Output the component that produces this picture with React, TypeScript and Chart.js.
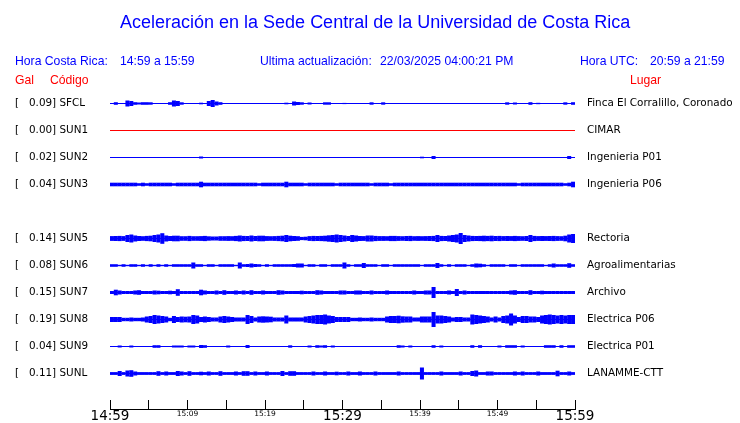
import React, { useEffect, useRef } from "react";
import { Chart, registerables } from "chart.js";

Chart.register(...registerables);

// ---------- data ----------
const TITLE = "Aceleración en la Sede Central de la Universidad de Costa Rica";
const LOCAL_RANGE = "14:59 a 15:59";
const UTC_RANGE = "20:59 a 21:59";
const LAST_UPDATE = "22/03/2025 04:00:21 PM";

const CODES = ["SFCL", "SUN1", "SUN2", "SUN3", "SUN5", "SUN6", "SUN7", "SUN8", "SUN9", "SUNL"];
const PEAK_GAL = [0.09, 0.0, 0.02, 0.04, 0.14, 0.08, 0.15, 0.19, 0.04, 0.11];
const PLACES = [
  "Finca El Corralillo, Coronado",
  "CIMAR",
  "Ingenieria P01",
  "Ingenieria P06",
  "Rectoria",
  "Agroalimentarias",
  "Archivo",
  "Electrica P06",
  "Electrica P01",
  "LANAMME-CTT",
];
// trace slot of each station (slot 4 is empty)
const SLOTS = [0, 1, 2, 3, 5, 6, 7, 8, 9, 10];

// time axis (minutes after 14:59)
const TICK_MINUTES = [0, 5, 10, 15, 20, 25, 30, 35, 40, 45, 50, 55, 60];
const TICK_LABELS = ["14:59", "", "15:09", "", "15:19", "", "15:29", "", "15:39", "", "15:49", "", "15:59"];
const MAJOR_LABELS = ["14:59", "15:29", "15:59"];
const BIN_MINUTES = 0.5; // envelope sampled every half minute

// envelope half-amplitude per half-minute bin (27 units = one trace spacing)
const SFCL = [
  0, 1.3, 0, 0.5, 3, 2.5, 1.3, 1, 1.3, 1.3, 1.2, 0, 0, 0, 0, 1.3, 3, 2.5, 1.2, 0,
  0, 0, 0, 0.8, 0, 2.5, 3.5, 2, 1.3, 0, 0, 0, 0, 0, 0, 0, 0, 0, 0, 0,
  0, 0, 0, 0, 0, 0.8, 0, 2, 1.5, 1.2, 0, 1, 0, 0, 0, 1.2, 1.2, 0, 0, 0,
  0.6, 0, 0, 0, 0, 0, 0, 1.2, 0, 0, 1.2, 0, 0, 0, 0, 0, 0, 0, 0, 0,
  0, 0, 0, 0, 0, 0, 0, 0, 0, 0, 0, 0, 0, 0, 0, 0, 0, 0, 0, 0,
  0, 0, 1.2, 0, 1, 0, 0, 0, 1.3, 0, 0.7, 0, 0, 0, 0, 0, 0, 1.2, 0, 1.3,
];
const SUN1 = [
  0, 0, 0, 0, 0, 0, 0, 0, 0, 0, 0, 0, 0, 0, 0, 0, 0, 0, 0, 0,
  0, 0, 0, 0, 0, 0, 0, 0, 0, 0, 0, 0, 0, 0, 0, 0, 0, 0, 0, 0,
  0, 0, 0, 0, 0, 0, 0, 0, 0, 0, 0, 0, 0, 0, 0, 0, 0, 0, 0, 0,
  0, 0, 0, 0, 0, 0, 0, 0, 0, 0, 0, 0, 0, 0, 0, 0, 0, 0, 0, 0,
  0, 0, 0, 0, 0, 0, 0, 0, 0, 0, 0, 0, 0, 0, 0, 0, 0, 0, 0, 0,
  0, 0, 0, 0, 0, 0, 0, 0, 0, 0, 0, 0, 0, 0, 0, 0, 0, 0, 0, 0,
];
const SUN2 = [
  0, 0, 0, 0, 0, 0, 0, 0, 0, 0, 0, 0, 0, 0, 0, 0, 0, 0, 0, 0,
  0, 0, 0, 1, 0, 0, 0, 0, 0, 0, 0, 0, 0, 0, 0, 0, 0, 0, 0, 0,
  0, 0, 0, 0, 0, 0, 0, 0, 0, 0, 0, 0, 0, 0, 0, 0, 0, 0, 0, 0,
  0, 0, 0, 0, 0, 0, 0, 0, 0, 0, 0, 0, 0, 0, 0, 0, 0, 0, 0, 0,
  0.8, 0, 0, 1.5, 0, 0, 0, 0, 0, 0, 0, 0, 0, 0, 0, 0, 0, 0, 0, 0,
  0, 0, 0, 0, 0, 0, 0, 0, 0, 0, 0, 0, 0, 0, 0, 0, 0, 0, 1.5, 0,
];
const SUN3 = [
  1.8, 1.8, 1.8, 1.8, 1.8, 1.8, 1.8, 1.3, 1.8, 1.3, 1.8, 1.8, 1.8, 1.8, 1.8, 1.8, 1.3, 1.8, 1.8, 1.8,
  1.8, 1.8, 1.8, 2.8, 1.8, 1.8, 1.8, 1.8, 1.8, 1.8, 1.8, 1.8, 1.8, 1.8, 1.8, 1.8, 1.8, 1.8, 1.3, 1.8,
  1.8, 1.8, 1.8, 1.8, 1.8, 2.8, 1.8, 1.8, 1.8, 1.8, 1.3, 1.8, 1.8, 1.8, 1.8, 1.8, 1.8, 1.8, 1.3, 1.8,
  1.8, 1.8, 1.8, 1.8, 1.8, 1.8, 1.8, 1.3, 1.8, 1.8, 1.8, 1.8, 1.3, 1.8, 1.8, 1.8, 1.8, 1.8, 1.8, 1.8,
  1.8, 1.8, 1.8, 1.8, 1.8, 1.8, 1.8, 1.8, 1.8, 1.8, 1.8, 1.8, 1.8, 1.8, 1.8, 1.8, 1.8, 1.8, 1.8, 1.8,
  1.8, 1.8, 1.8, 1.8, 1.8, 1.3, 1.8, 1.8, 1.8, 1.8, 1.8, 1.8, 1.8, 1.8, 1.8, 1.8, 1.8, 1.3, 1.8, 2.8,
];
const SUN5 = [
  2.4, 2.5, 2.6, 2.4, 3.5, 4, 3, 2.5, 2.3, 2.6, 2.8, 3.5, 4, 5.3, 3, 2.5, 2.8, 2.8, 2.3, 2.3,
  2.6, 2.3, 2.3, 2.4, 2.6, 2.2, 2, 2, 2.3, 2.3, 2.4, 2.3, 2.6, 3, 2.6, 2.5, 3, 2.5, 2.8, 2.8,
  2.4, 2.3, 2.4, 2.6, 2.8, 3.5, 2.8, 2.5, 2.3, 1.6, 1.8, 2.4, 2.6, 2.5, 2.6, 2.8, 3.2, 3.5, 4, 3.5,
  3, 2.5, 3.5, 3, 2.5, 2.4, 3, 3, 2.6, 2.4, 2.4, 2.3, 2.6, 2.6, 2.4, 2.3, 2.5, 2.6, 2.3, 2.4,
  2.3, 2.4, 2.5, 2.6, 3.5, 2.6, 2.5, 3, 3.5, 4, 5.5, 3.5, 3, 2.6, 2.5, 2.6, 2.8, 2.6, 2.8, 2.5,
  2.6, 2.4, 2.5, 2.4, 2.6, 2.4, 2.3, 2.5, 3.5, 2.6, 2.4, 2.5, 2.4, 2.5, 2.6, 2.4, 2.3, 2.8, 4, 4.5,
];
const SUN6 = [
  1.3, 1.3, 0.7, 1.3, 0.7, 1.3, 1.3, 0.7, 1.3, 0.7, 1.3, 0.7, 1.3, 0.7, 1.3, 0.7, 1.3, 1.3, 1.3, 1.3,
  1.3, 3, 1.3, 1.3, 0.7, 1.3, 1.3, 0.7, 1.3, 1.3, 1.3, 1.3, 0.7, 3, 1.3, 1.5, 2, 1.5, 1.3, 0.7,
  1.3, 0.7, 1.3, 1.3, 1.3, 1.3, 1.3, 1.5, 2, 2, 0.7, 1.3, 1.3, 0.7, 1.3, 1.3, 0.7, 1.3, 1.3, 1.3,
  3, 1.3, 0.7, 1.3, 1.3, 2.5, 1.3, 1.3, 1.3, 0.7, 1.3, 1.3, 0.7, 1.3, 1.3, 1.3, 1.3, 1.3, 1.3, 1.3,
  0.7, 1.3, 1.3, 1.3, 2.5, 1.3, 0.7, 1.3, 0.7, 1.3, 1.3, 1.3, 0.7, 1.3, 2, 1.8, 1.3, 0.7, 1.3, 1.3,
  1.3, 1.3, 0.7, 1.3, 1.3, 0.7, 1.3, 1.3, 1.3, 1.3, 1.3, 1.3, 0.7, 1.3, 2, 1.3, 1.3, 1.3, 2.3, 1.3,
];
const SUN7 = [
  1.5, 2.8, 2, 1.5, 1.5, 1.5, 2, 2.3, 1.5, 1.5, 1.5, 2, 1.8, 1.5, 1.5, 1.8, 1.5, 3.3, 1.5, 1.5,
  1.5, 1.5, 1.5, 2.8, 2, 1.5, 1.5, 2, 1.5, 2.3, 1.5, 1.5, 2, 1.5, 2, 1.5, 2.3, 1.5, 1.5, 2,
  1.5, 1.5, 1.5, 2.3, 2, 1.5, 1.5, 1.5, 1.5, 1.8, 1.5, 1.5, 1.5, 2.3, 2, 1.5, 1.5, 1.5, 1.5, 2,
  2, 1.5, 1.5, 2, 2, 1.5, 1.5, 2, 1.5, 1.5, 1.5, 2, 1.5, 1.5, 1.5, 1.5, 1.5, 1.5, 2, 1.5,
  1.5, 2, 2, 5.5, 1.5, 1.5, 1.5, 2, 1.5, 3.5, 1.5, 2, 1.5, 1.5, 1.5, 1.5, 1.5, 1.5, 1.5, 1.5,
  1.5, 1.5, 1.5, 2, 2.3, 1.5, 1.5, 1.5, 2.3, 1.5, 1.5, 1.8, 1.5, 1.5, 1.5, 1.5, 1.5, 1.5, 1.5, 1.5,
];
const SUN8 = [
  2.5, 2.5, 2.5, 1.7, 1.7, 2, 1.7, 1.7, 2, 3, 3.5, 4.5, 4, 3.5, 3, 1.7, 3.5, 2.5, 3, 2.8,
  3, 4.5, 4, 2.5, 3, 2.5, 2, 2, 3, 3.5, 3, 2.5, 2, 2, 2, 4.5, 3.5, 2, 3, 3.2,
  3, 2.8, 2, 2, 2, 4, 2, 2, 2, 2, 3, 3.5, 4, 4.5, 4.5, 5, 4, 3.5, 2.5, 2.5,
  2.5, 2.5, 1.7, 1.7, 2, 1.7, 1.7, 2, 1.7, 1.7, 1.7, 3, 3.5, 3.5, 3.8, 3.2, 3, 3, 2, 2,
  3, 3, 3, 7.5, 4, 4, 3.5, 3, 2, 2.5, 2.5, 2, 2, 5, 4.5, 4, 3.5, 3, 2, 3,
  2, 3.5, 4, 6, 4, 2.5, 3.5, 3.5, 3, 3, 2.5, 4, 4.5, 5, 4.5, 4, 4.5, 4, 4.5, 4.5,
];
const SUN9 = [
  0, 0, 1, 0, 0, 1, 0, 0, 0, 0, 0, 1.3, 1.3, 0, 0, 0, 1, 1, 1, 0,
  1, 1, 0, 1.5, 1.3, 0, 0, 0, 0, 0, 1, 0, 0, 0, 0, 1.5, 0, 0, 0, 0,
  0, 0, 0, 0, 0, 0, 1.2, 0, 0, 0, 0, 1, 0, 1.3, 1, 1.3, 0, 1, 0, 0,
  0, 0, 0, 0, 0, 0, 0, 0, 0, 0, 0, 0, 0, 0, 1.3, 1, 0, 1, 0, 0,
  0, 0, 0, 1.3, 0, 1, 0, 0, 0, 0, 0, 0, 0, 1.3, 0, 1.3, 0, 0, 0, 0,
  1, 0, 1.3, 1.3, 1.3, 0, 1, 0, 0, 0, 0, 0, 1.3, 1.3, 1.3, 0, 1.3, 0, 1.3, 1.3,
];
const SUNL = [
  1.4, 1.4, 2.5, 1.4, 3, 3.3, 2, 1.4, 1.4, 1.4, 1.4, 1.4, 2.3, 1.4, 2, 1.4, 1.4, 2.5, 2, 1.4,
  2.3, 1.4, 1.4, 1.8, 1.4, 2, 1.4, 1.4, 2.3, 1.4, 1.4, 1.4, 2, 1.4, 2.3, 2.3, 1.4, 2, 1.4, 1.4,
  2, 1.4, 1.4, 1.4, 2.5, 1.4, 2.3, 2.3, 1.4, 1.4, 1.4, 1.4, 2, 1.4, 1.4, 2, 1.4, 1.4, 1.8, 1.4,
  1.4, 2, 1.4, 1.4, 2, 1.4, 1.4, 1.4, 2, 1.4, 1.4, 1.4, 1.4, 1.4, 2, 1.4, 1.4, 1.4, 1.4, 1.4,
  6, 1.4, 1.4, 1.4, 1.4, 2, 1.4, 1.4, 1.4, 1.4, 2, 1.4, 1.4, 2.5, 3, 1.4, 1.4, 2, 2, 1.4,
  1.4, 1.4, 1.4, 1.4, 2, 1.4, 2, 1.4, 1.4, 1.4, 2, 1.4, 1.4, 1.4, 1.4, 2.8, 1.4, 1.4, 2, 1.4,
];
const ENVELOPES = [SFCL, SUN1, SUN2, SUN3, SUN5, SUN6, SUN7, SUN8, SUN9, SUNL];
const UNITS_PER_SLOT = 27;

// ---------- styles ----------
const BLUE = "#0000ff";
const RED = "#ff0000";
const TRACE_COLORS = [BLUE, RED, BLUE, BLUE, BLUE, BLUE, BLUE, BLUE, BLUE, BLUE];
const HEAD_FONT = '"Liberation Sans", Arial, Helvetica, sans-serif';
const LABEL_FONT = '"DejaVu Sans", Verdana, sans-serif';

const W = 740;
const H = 423;

const noPad = (s: any) => {
  s.paddingTop = 0;
  s.paddingBottom = 0;
  s.paddingLeft = 0;
  s.paddingRight = 0;
};

export default function App() {
  const ref = useRef<HTMLCanvasElement | null>(null);

  useEffect(() => {
    const canvas = ref.current;
    if (!canvas) return;

    const datasets: any[] = [];
    ENVELOPES.forEach((env, s) => {
      const slot = SLOTS[s];
      const color = TRACE_COLORS[s];
      datasets.push({
        type: "bar",
        yAxisID: "y",
        grouped: false,
        backgroundColor: color,
        borderWidth: 0,
        categoryPercentage: 1,
        barPercentage: 1.04,
        data: env.map((a, i) => ({
          x: (i + 0.5) * BIN_MINUTES,
          y: a > 0 ? [slot - a / UNITS_PER_SLOT, slot + a / UNITS_PER_SLOT] : null,
        })),
      });
      datasets.push({
        type: "line",
        yAxisID: "y",
        borderColor: color,
        borderWidth: 1,
        pointRadius: 0,
        fill: false,
        data: [
          { x: TICK_MINUTES[0], y: slot },
          { x: TICK_MINUTES[TICK_MINUTES.length - 1], y: slot },
        ],
      });
    });

    const leftLabel = (v: number) => {
      const i = SLOTS.indexOf(v);
      return i < 0 ? "" : `[   ${PEAK_GAL[i].toFixed(2)}] ${CODES[i]}`;
    };
    const rightLabel = (v: number) => {
      const i = SLOTS.indexOf(v);
      return i < 0 ? "" : PLACES[i];
    };
    const yMin = -0.5;
    const yMax = 11.3148;

    const chart = new Chart(canvas, {
      type: "bar",
      data: { datasets },
      options: {
        animation: false,
        responsive: false,
        events: [],
        layout: { autoPadding: false, padding: { left: 15, right: 0, top: 90, bottom: 0 } },
        plugins: {
          legend: { display: false },
          tooltip: { enabled: false },
          title: { display: false },
        },
        scales: {
          x: {
            type: "linear",
            position: "bottom",
            min: TICK_MINUTES[0],
            max: TICK_MINUTES[TICK_MINUTES.length - 1],
            offset: false,
            grid: {
              display: true,
              offset: false,
              drawOnChartArea: false,
              drawTicks: true,
              tickLength: -9,
              color: "#000",
              lineWidth: 1,
            },
            border: { display: true, color: "#000", width: 1 },
            ticks: {
              autoSkip: false,
              maxRotation: 0,
              minRotation: 0,
              padding: 8,
              color: "#000",
              font: (ctx: any) => {
                const lab = TICK_LABELS[ctx.index] || "";
                return MAJOR_LABELS.includes(lab)
                  ? { family: LABEL_FONT, size: 13.5, lineHeight: 1.2 }
                  : { family: LABEL_FONT, size: 7.5, lineHeight: 1.55 };
              },
              callback: (_v: any, i: number) => TICK_LABELS[i],
            },
            afterBuildTicks: (s: any) => {
              s.ticks = TICK_MINUTES.map((v) => ({ value: v }));
            },
            afterFit: (s: any) => {
              s.height = 14;
              noPad(s);
            },
          },
          y: {
            type: "linear",
            position: "left",
            min: yMin,
            max: yMax,
            reverse: true,
            grid: { display: false, drawTicks: false },
            border: { display: false },
            ticks: {
              crossAlign: "far",
              padding: 0,
              color: "#000",
              font: { family: LABEL_FONT, size: 10.4 },
              callback: (v: any) => leftLabel(Number(v)),
            },
            afterBuildTicks: (s: any) => {
              s.ticks = SLOTS.map((v) => ({ value: v }));
            },
            afterFit: (s: any) => {
              s.width = 95;
              noPad(s);
            },
          },
          y2: {
            type: "linear",
            position: "right",
            min: yMin,
            max: yMax,
            reverse: true,
            grid: { display: false, drawTicks: false },
            border: { display: false },
            ticks: {
              padding: 12,
              color: "#000",
              font: { family: LABEL_FONT, size: 10.4 },
              callback: (v: any) => rightLabel(Number(v)),
            },
            afterBuildTicks: (s: any) => {
              s.ticks = SLOTS.map((v) => ({ value: v }));
            },
            afterFit: (s: any) => {
              s.width = 165;
              noPad(s);
            },
          },
        },
      } as any,
    });
    return () => chart.destroy();
  }, []);

  const head = (text: string, left: number, top: number, color: string, size = 12): React.ReactNode => (
    <span
      style={{
        position: "absolute",
        left,
        top,
        color,
        fontFamily: HEAD_FONT,
        fontSize: size,
        lineHeight: size < 15 ? "14px" : "20px",
        whiteSpace: "pre",
      }}
    >
      {text}
    </span>
  );

  return (
    <div style={{ position: "absolute", left: 0, top: 0, width: W, height: H, background: "#fff", overflow: "hidden" }}>
      <canvas ref={ref} width={W} height={H} style={{ position: "absolute", left: 0, top: 0, width: W, height: H }} />
      {head(TITLE, 120, 12, BLUE, 18)}
      {head("Hora Costa Rica:", 15, 54, BLUE, 12.2)}
      {head(LOCAL_RANGE, 120, 54, BLUE, 12.2)}
      {head("Ultima actualización:", 260, 54, BLUE, 12.2)}
      {head(LAST_UPDATE, 380, 54, BLUE, 12.2)}
      {head("Hora UTC:", 580, 54, BLUE, 12.2)}
      {head(UTC_RANGE, 650, 54, BLUE, 12.2)}
      {head("Gal", 15, 73, RED, 12.2)}
      {head("Código", 50, 73, RED, 12.2)}
      {head("Lugar", 630, 73, RED, 12.2)}
    </div>
  );
}
